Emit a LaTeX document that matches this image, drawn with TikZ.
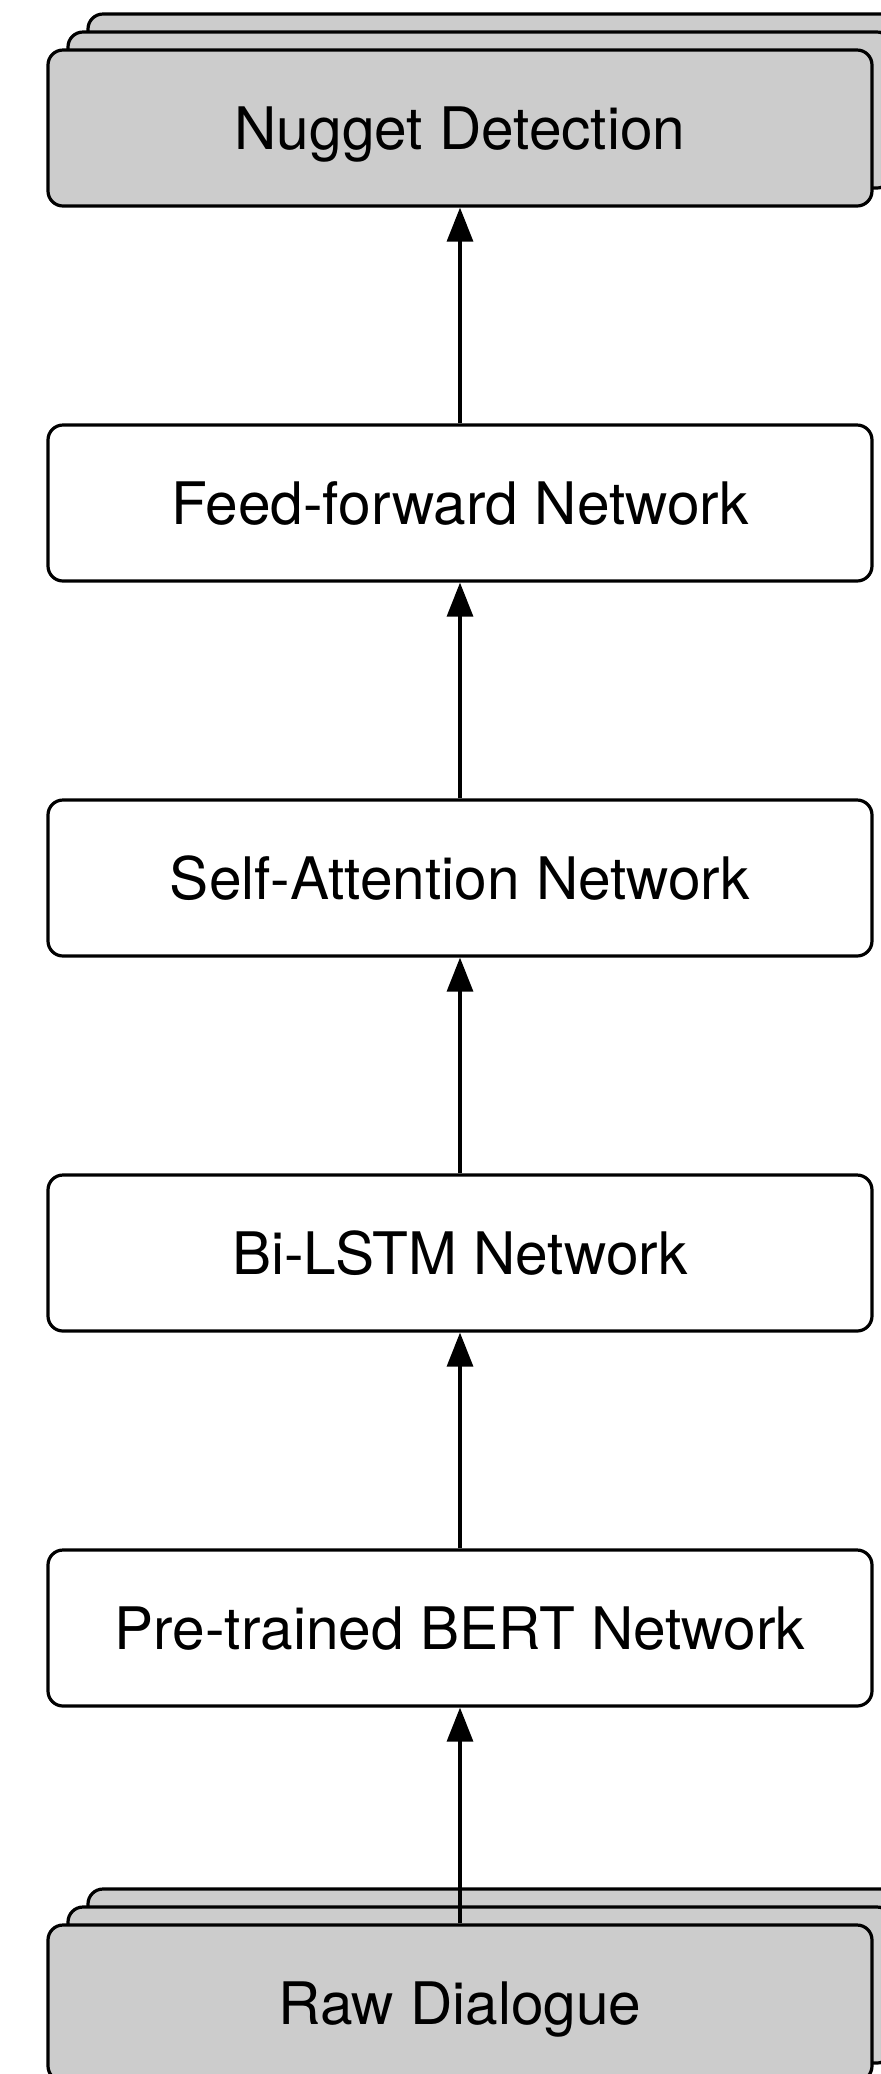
\documentclass[tikz,border=0pt]{standalone}
\usepackage{fontspec}
\setmainfont{TeX Gyre Heros}
\usetikzlibrary{arrows.meta,shadows,positioning}

\tikzset{
  layer/.style={draw, line width=1.6pt, rounded corners=7.5pt, fill=white,
    minimum width=412pt, minimum height=78pt, inner sep=0pt,
    text height=21pt, text depth=0pt,
    font=\fontsize{29.3}{34}\selectfont},
  data/.style={layer, fill=black!20,
    double copy shadow={shadow xshift=10pt, shadow yshift=9pt}},
  flow/.style={-{Triangle[width=13pt,length=17pt]}, line width=1.6pt}
}

\begin{document}
\begin{tikzpicture}[x=0.5pt,y=-0.5pt]
  \useasboundingbox (0,0) rectangle (881,2074);

  % input and output, stacked
  \node[data] (raw) at (460,2003) {Raw Dialogue};
  \node[data] (nugget) at (460,128) {Nugget Detection};

  % network layers
  \node[layer] (bert) at (460,1628) {Pre-trained BERT Network};
  \node[layer] (lstm) at (460,1253) {Bi-LSTM Network};
  \node[layer] (att)  at (460,878)  {Self-Attention Network};
  \node[layer] (ffn)  at (460,503)  {Feed-forward Network};

  \draw[flow] (raw) -- (bert);
  \draw[flow] (bert) -- (lstm);
  \draw[flow] (lstm) -- (att);
  \draw[flow] (att) -- (ffn);
  \draw[flow] (ffn) -- (nugget);
\end{tikzpicture}
\end{document}
